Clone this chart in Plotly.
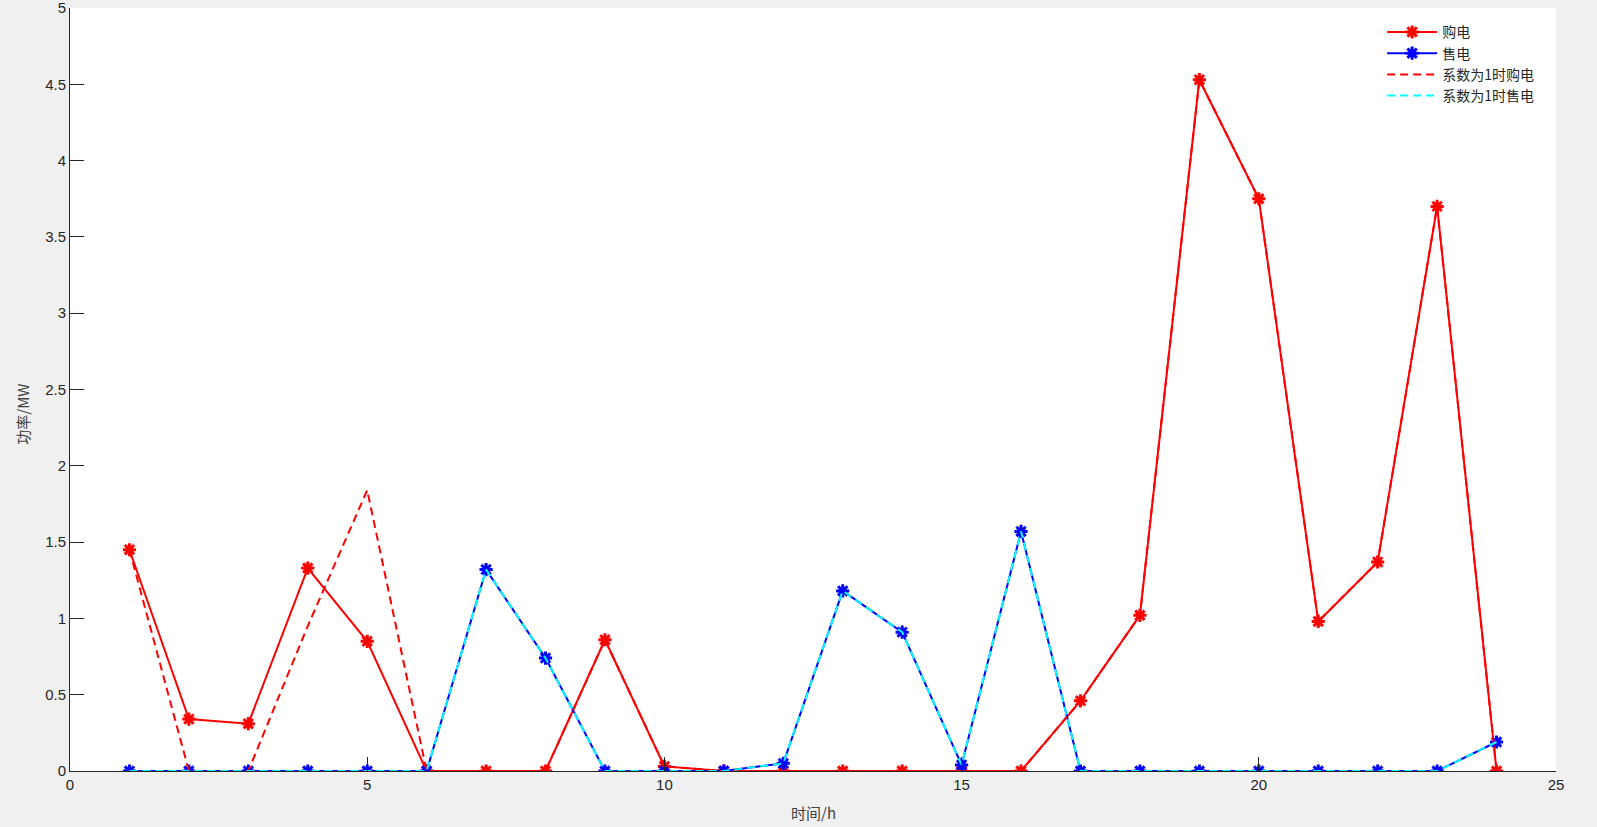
import plotly.graph_objects as go

hours = list(range(1, 25))

# 购电 / 售电（优化结果）
buy = [1.45, 0.34, 0.31, 1.33, 0.85, 0, 0, 0, 0.86, 0.03, 0, 0,
       0, 0, 0, 0, 0.46, 1.02, 4.53, 3.75, 0.98, 1.37, 3.70, 0]
sell = [0, 0, 0, 0, 0, 0, 1.32, 0.74, 0, 0, 0, 0.05,
        1.18, 0.91, 0.04, 1.57, 0, 0, 0, 0, 0, 0, 0, 0.19]
# 系数为1时
buy1 = [1.45, 0, 0, 0.95, 1.84, 0, 0, 0, 0.86, 0.03, 0, 0,
        0, 0, 0, 0, 0.46, 1.02, 4.53, 3.75, 0.98, 1.37, 3.70, 0]
sell1 = [0, 0, 0, 0, 0, 0, 1.32, 0.74, 0, 0, 0, 0.05,
         1.18, 0.91, 0.04, 1.57, 0, 0, 0, 0, 0, 0, 0, 0.19]

x_ticks = [0, 5, 10, 15, 20, 25]
y_ticks = [0, 0.5, 1, 1.5, 2, 2.5, 3, 3.5, 4, 4.5, 5]

FONT = "Noto Sans CJK SC, Arial, sans-serif"
NUM = "Liberation Sans, Arial, sans-serif"
AX = "#262626"


def star(color):
    return dict(color=color, symbol="asterisk-open", size=11,
                line=dict(color=color, width=3))


fig = go.Figure()
fig.add_trace(go.Scatter(x=hours, y=buy, mode="lines+markers", name="购电",
                         line=dict(color="#ff0000", width=2), marker=star("#ff0000")))
fig.add_trace(go.Scatter(x=hours, y=sell, mode="lines+markers", name="售电",
                         line=dict(color="#0000ff", width=2), marker=star("#0000ff")))
fig.add_trace(go.Scatter(x=hours, y=buy1, mode="lines", name="系数为1时购电",
                         line=dict(color="#ff0000", width=2, dash="8px,5px")))
fig.add_trace(go.Scatter(x=hours, y=sell1, mode="lines", name="系数为1时售电",
                         line=dict(color="#00ffff", width=2, dash="8px,5px")))

axis = dict(showline=True, linecolor=AX, linewidth=1, ticks="inside",
            ticklen=14, tickcolor=AX, tickwidth=1, showgrid=False,
            zeroline=False, mirror=False, automargin=False,
            ticklabeloverflow="allow",
            tickfont=dict(family=NUM, size=15, color=AX))
fig.update_xaxes(range=[0, 25], tickvals=x_ticks, **axis)
fig.update_yaxes(range=[0, 5], tickvals=y_ticks, **axis)

# 坐标轴标题和（被裁切的）图题
fig.add_annotation(text="时间/h", xref="paper", yref="paper", x=0.5, y=-0.055,
                   xanchor="center", yanchor="middle", showarrow=False,
                   font=dict(family=FONT, size=15, color="#404040"))
fig.add_annotation(text="功率/MW", xref="paper", yref="paper", x=-0.0316, y=0.467,
                   xanchor="center", yanchor="middle", textangle=-90, showarrow=False,
                   font=dict(family=FONT, size=15, color="#404040"))
fig.add_annotation(text="系数不同时购售电功率", xref="paper", yref="paper",
                   x=0.5, y=1.006, yanchor="bottom", showarrow=False,
                   font=dict(family=FONT, size=14, color=AX))

fig.update_layout(
    width=1597, height=827,
    paper_bgcolor="#f0f0f0", plot_bgcolor="#ffffff",
    margin=dict(l=70, r=41, t=8, b=56),
    font=dict(family=FONT, color=AX),
    legend=dict(x=0.883, y=0.989, xanchor="left", yanchor="top",
                bgcolor="rgba(255,255,255,0)", borderwidth=0,
                font=dict(family=FONT, size=14, color=AX),
                tracegroupgap=0, itemwidth=50),
    showlegend=True,
)

fig.write_html("out.html", config={"displayModeBar": False},
               post_script="document.body.style.margin='0';"
                           "document.body.style.background='#f0f0f0';")
